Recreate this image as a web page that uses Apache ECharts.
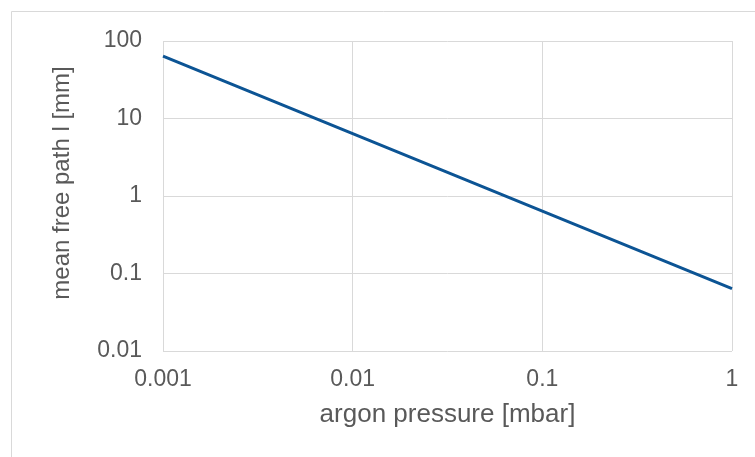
<!DOCTYPE html>
<html><head><meta charset="utf-8">
<script src="https://cdn.jsdelivr.net/npm/echarts@6/dist/echarts.min.js"></script>
<style>html,body{margin:0;padding:0;background:#fff}#c{width:755px;height:457px}</style>
</head><body><div id="c"></div>
<script>
var pressure = [0.001, 0.01, 0.1, 1];
var meanFreePath = [64, 6.4, 0.64, 0.064];
var xTickLabels = ['0.001', '0.01', '0.1', '1'];
var yTickLabels = ['0.01', '0.1', '1', '10', '100'];
var xTitle = 'argon pressure [mbar]';
var yTitle = 'mean free path l [mm]';

function fmt(v, list) {
  for (var i = 0; i < list.length; i++) {
    if (Math.abs(Math.log10(v) - Math.log10(parseFloat(list[i]))) < 1e-6) return list[i];
  }
  return '';
}
var chart = echarts.init(document.getElementById('c'), null, {renderer: 'canvas'});
var font = 'Liberation Sans, Arial, sans-serif';
chart.setOption({
  animation: false,
  backgroundColor: '#fff',
  graphic: [{type: 'rect', shape: {x: 11.5, y: 11.5, width: 760, height: 470}, style: {fill: 'none', stroke: '#d9d9d9', lineWidth: 1}, silent: true}],
  grid: {left: 163, right: 23, top: 41, bottom: 106},
  xAxis: {
    type: 'log', logBase: 10, min: 0.001, max: 1,
    name: xTitle, nameLocation: 'middle', nameGap: 51,
    nameTextStyle: {fontFamily: font, fontSize: 26, color: '#595959'},
    axisLine: {show: false}, axisTick: {show: false},
    axisLabel: {fontFamily: font, fontSize: 23, color: '#595959', margin: 17, formatter: function (v) { return fmt(v, xTickLabels); }},
    splitLine: {show: true, lineStyle: {color: '#d9d9d9', width: 1}}
  },
  yAxis: {
    type: 'log', logBase: 10, min: 0.01, max: 100,
    name: yTitle, nameLocation: 'middle', nameGap: 89,
    nameTextStyle: {fontFamily: font, fontSize: 24, color: '#595959', padding: [0, 0, 0, 26]},
    axisLine: {show: false}, axisTick: {show: false},
    axisLabel: {fontFamily: font, fontSize: 23, color: '#595959', margin: 21, formatter: function (v) { return fmt(v, yTickLabels); }},
    splitLine: {show: true, lineStyle: {color: '#d9d9d9', width: 1}}
  },
  series: [{
    type: 'line', data: pressure.map(function (p, i) { return [p, meanFreePath[i]]; }),
    showSymbol: false, symbol: 'none',
    lineStyle: {color: '#0c5494', width: 3}
  }]
});
</script></body></html>
